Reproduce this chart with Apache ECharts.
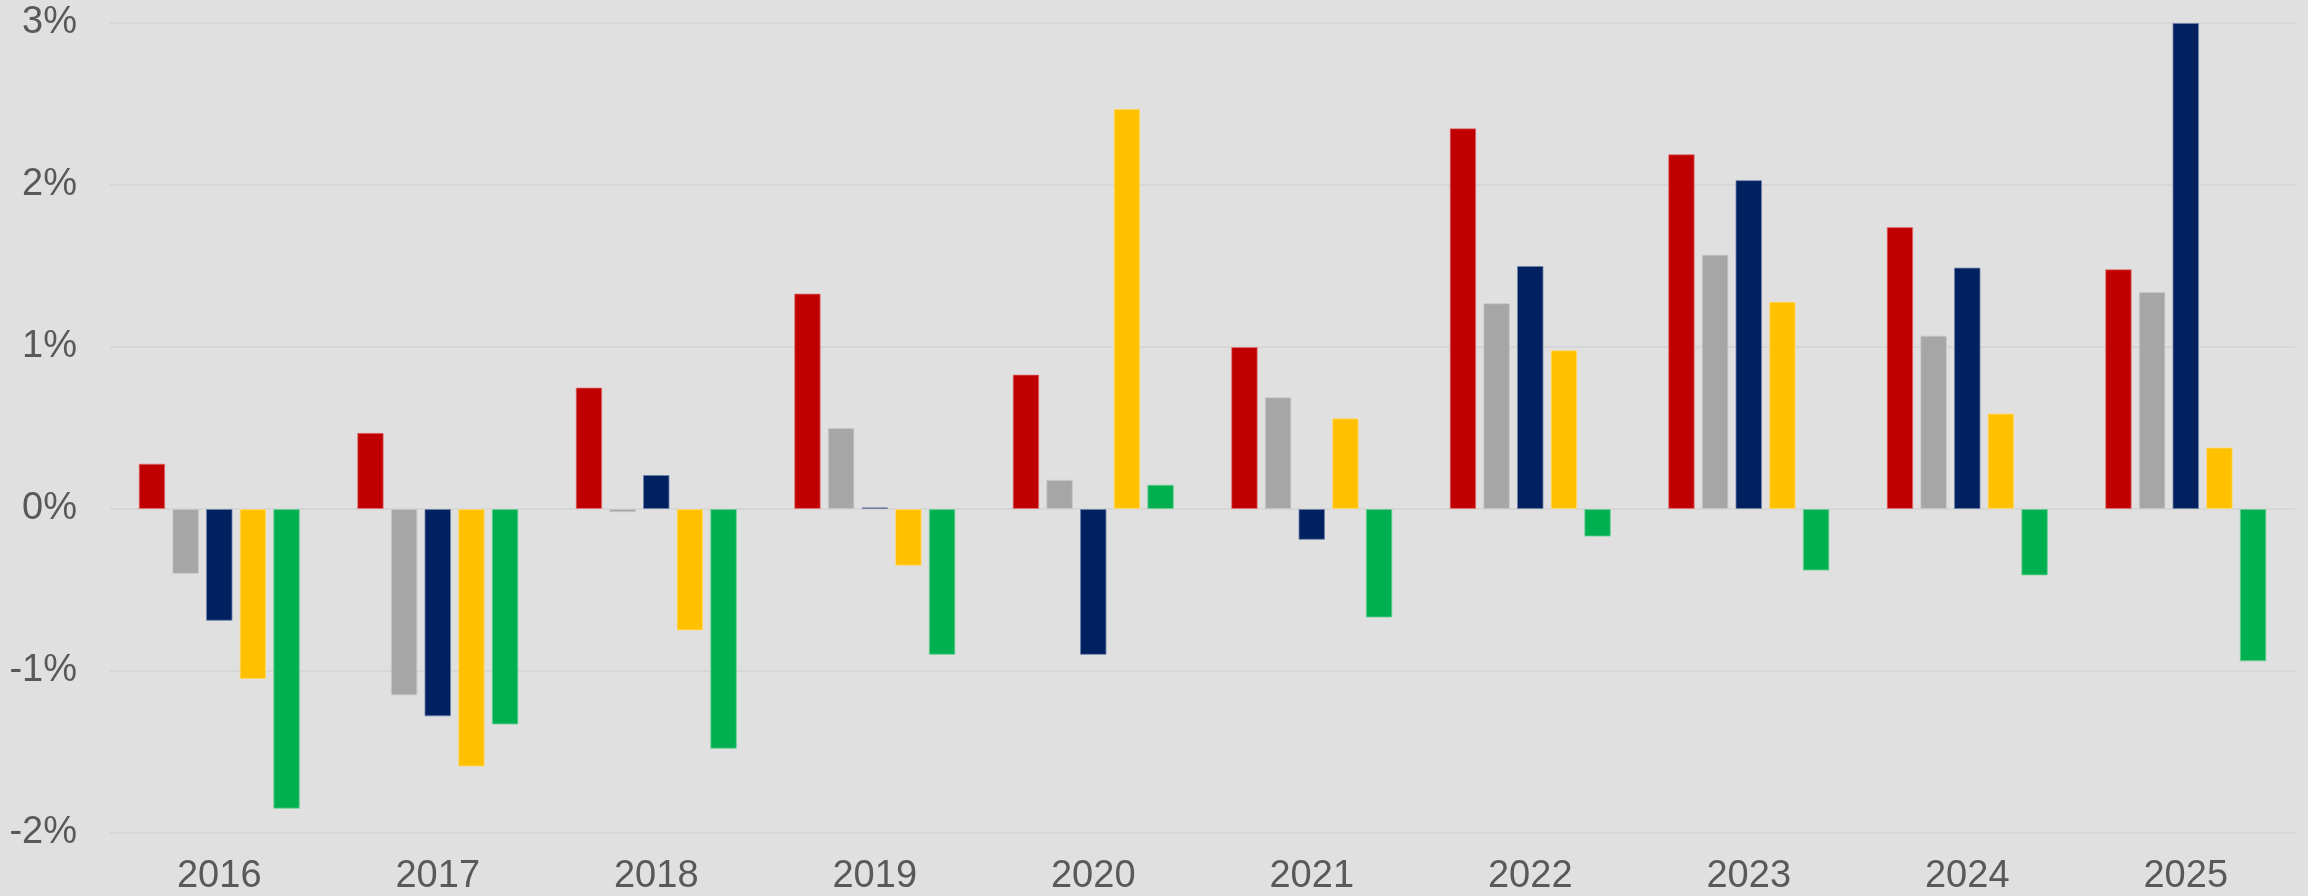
<!DOCTYPE html>
<html>
<head>
<meta charset="utf-8">
<style>
  html, body { margin: 0; padding: 0; background: #e0e0e0; }
  #chart { width: 2308px; height: 896px; }
</style>
<script src="https://cdn.jsdelivr.net/npm/echarts@6/dist/echarts.min.js"></script>
</head>
<body>
<div id="chart"></div>
<script>
// Years on the category axis
const years = ['2016', '2017', '2018', '2019', '2020', '2021', '2022', '2023', '2024', '2025'];

// Annual change, in percent, for each of the five series
const redValues    = [0.28, 0.47, 0.75, 1.33, 0.83, 1.00, 2.35, 2.19, 1.74, 1.48];
const greyValues   = [-0.40, -1.15, -0.02, 0.50, 0.18, 0.69, 1.27, 1.57, 1.07, 1.34];
const navyValues   = [-0.69, -1.28, 0.21, 0.01, -0.90, -0.19, 1.50, 2.03, 1.49, 3.00];
const yellowValues = [-1.05, -1.59, -0.75, -0.35, 2.47, 0.56, 0.98, 1.28, 0.59, 0.38];
const greenValues  = [-1.85, -1.33, -1.48, -0.90, 0.15, -0.67, -0.17, -0.38, -0.41, -0.94];

// Value axis range and step (percent)
const yMin = -2;
const yMax = 3;
const yStep = 1;

const seriesDefs = [
  { name: 'Series 1', data: redValues,    color: '#c00000', edge: 'rgba(230,120,120,0.7)' },
  { name: 'Series 2', data: greyValues,   color: '#a6a6a6', edge: 'rgba(200,200,200,0.8)' },
  { name: 'Series 3', data: navyValues,   color: '#002060', edge: 'rgba(110,130,170,0.8)' },
  { name: 'Series 4', data: yellowValues, color: '#ffc000', edge: 'rgba(255,220,120,0.8)' },
  { name: 'Series 5', data: greenValues,  color: '#00b050', edge: 'rgba(110,210,150,0.8)' }
];

const chart = echarts.init(document.getElementById('chart'), null, { renderer: 'canvas' });

const textStyle = {
  color: '#595959',
  fontFamily: '"Liberation Sans", Arial, sans-serif',
  fontSize: 38
};

chart.setOption({
  backgroundColor: '#e0e0e0',
  animation: false,
  grid: { left: 110, right: 13, top: 23, bottom: 63, containLabel: false },
  xAxis: {
    type: 'category',
    data: years,
    axisLine: { show: false },
    axisTick: { show: false },
    axisLabel: Object.assign({ margin: 25 }, textStyle),
    splitLine: { show: false }
  },
  yAxis: {
    type: 'value',
    min: yMin,
    max: yMax,
    interval: yStep,
    axisLine: { show: false },
    axisTick: { show: false },
    axisLabel: Object.assign({ margin: 33, formatter: '{value}%' }, textStyle),
    splitLine: { show: true, lineStyle: { color: '#d6d6d6', width: 2 } }
  },
  series: seriesDefs.map(s => ({
    name: s.name,
    type: 'bar',
    data: s.data,
    barWidth: 26.5,
    barGap: '27%',
    itemStyle: { color: s.color, borderColor: s.edge, borderWidth: 1 }
  }))
});
</script>
</body>
</html>
